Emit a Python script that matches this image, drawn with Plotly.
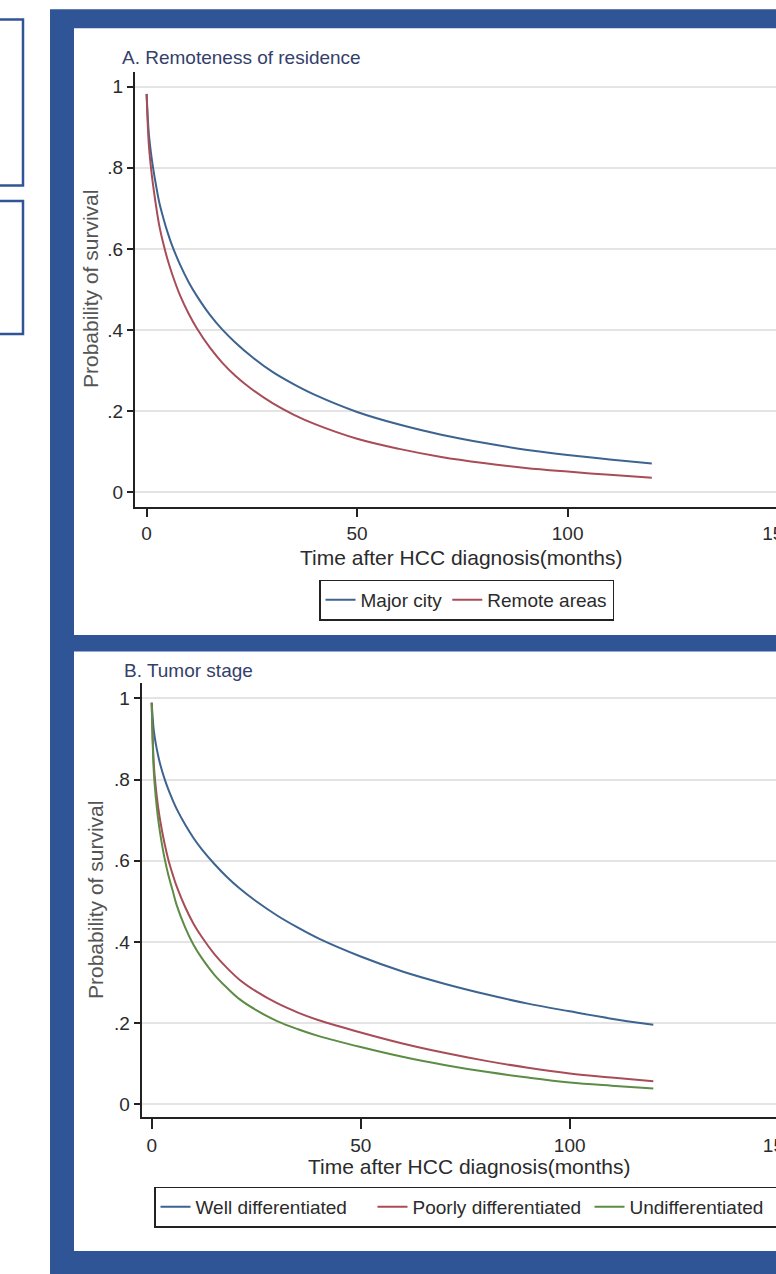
import plotly.graph_objects as go

# ---------------- data ----------------
time_months = [0, 0.5, 1, 1.5, 2, 3, 4, 5, 6, 8, 10, 12, 15, 18, 21, 25, 30, 35, 40,
               50, 60, 70, 80, 90, 100, 110, 120]

major_city = [0.982, 0.888, 0.840, 0.803, 0.771, 0.715, 0.675, 0.640, 0.610, 0.560,
              0.518, 0.483, 0.438, 0.401, 0.370, 0.334, 0.296, 0.266, 0.240,
              0.198, 0.167, 0.142, 0.122, 0.105, 0.092, 0.081, 0.071]
remote_areas = [0.982, 0.862, 0.804, 0.760, 0.723, 0.658, 0.612, 0.573, 0.540, 0.484,
                0.440, 0.403, 0.357, 0.319, 0.288, 0.254, 0.219, 0.191, 0.168,
                0.132, 0.107, 0.087, 0.072, 0.060, 0.051, 0.043, 0.036]

well_diff = [0.989, 0.921, 0.887, 0.861, 0.839, 0.804, 0.775, 0.750, 0.727, 0.689,
             0.656, 0.628, 0.592, 0.560, 0.532, 0.500, 0.465, 0.435, 0.408,
             0.364, 0.327, 0.297, 0.271, 0.248, 0.229, 0.211, 0.196]
poorly_diff = [0.989, 0.839, 0.779, 0.735, 0.701, 0.646, 0.602, 0.567, 0.536, 0.486,
               0.445, 0.412, 0.370, 0.336, 0.307, 0.278, 0.249, 0.226, 0.207,
               0.177, 0.150, 0.127, 0.107, 0.090, 0.076, 0.066, 0.057]
undiff = [0.989, 0.820, 0.754, 0.706, 0.669, 0.610, 0.564, 0.527, 0.490, 0.436,
          0.393, 0.360, 0.319, 0.287, 0.259, 0.232, 0.205, 0.185, 0.168,
          0.141, 0.117, 0.097, 0.080, 0.066, 0.054, 0.046, 0.039]

x_tickvals = [0, 50, 100, 150]
y_tickvals = [0, 0.2, 0.4, 0.6, 0.8, 1]
y_ticktext = ["0", ".2", ".4", ".6", ".8", "1"]

panel_titles = ["A. Remoteness of residence", "B. Tumor stage"]
x_title = "Time after HCC diagnosis(months)"
y_title = "Probability of survival"

# ---------------- styling ----------------
# The reference is a crop of a wider figure: the page is drawn 820 px wide and
# the 776 px window shows its left part, so the right edge is cut like the original.
W, H = 820, 1274
FONT = "Arial, Liberation Sans, sans-serif"
FRAME = "#2f5597"
C_BLUE = "#3d6391"
C_RED = "#a84c57"
C_GREEN = "#5c8c45"
GRID = "#e4e4e4"
TXT = "#2b2b2b"


def px(x):
    return x / W


def py(y):
    return 1 - y / H


fig = go.Figure()

line_kw = dict(mode="lines", line_shape="spline")
fig.add_trace(go.Scatter(x=time_months, y=major_city, name="Major city",
                         line=dict(color=C_BLUE, width=2), xaxis="x", yaxis="y",
                         legend="legend", **line_kw))
fig.add_trace(go.Scatter(x=time_months, y=remote_areas, name="Remote areas",
                         line=dict(color=C_RED, width=2), xaxis="x", yaxis="y",
                         legend="legend", **line_kw))
fig.add_trace(go.Scatter(x=time_months, y=well_diff, name="Well differentiated",
                         line=dict(color=C_BLUE, width=2), xaxis="x2", yaxis="y2",
                         legend="legend2", **line_kw))
fig.add_trace(go.Scatter(x=time_months, y=poorly_diff, name="Poorly differentiated",
                         line=dict(color=C_RED, width=2), xaxis="x2", yaxis="y2",
                         legend="legend2", **line_kw))
fig.add_trace(go.Scatter(x=time_months, y=undiff, name="Undifferentiated",
                         line=dict(color=C_GREEN, width=2), xaxis="x2", yaxis="y2",
                         legend="legend2", **line_kw))

tickfont = dict(family=FONT, size=19, color=TXT)
xax = dict(tickvals=x_tickvals, ticks="outside", ticklen=8, tickwidth=2, tickcolor="#222",
           showline=True, linecolor="#222", linewidth=2, showgrid=False, zeroline=False,
           tickfont=tickfont, fixedrange=True)
yax = dict(tickvals=y_tickvals, ticktext=y_ticktext, ticks="outside", ticklen=6, tickwidth=2,
           tickcolor="#222", showline=True, linecolor="#222", linewidth=2,
           showgrid=True, gridcolor=GRID, gridwidth=2, zeroline=False, tickfont=tickfont,
           fixedrange=True)

legend_font = dict(family=FONT, size=19, color=TXT)
fig.update_layout(
    width=W, height=H,
    margin=dict(l=0, r=0, t=0, b=0),
    paper_bgcolor="white", plot_bgcolor="rgba(0,0,0,0)",
    font=dict(family=FONT, color=TXT),
    xaxis=dict(domain=[px(135), 1.0], range=[-2.755, 159.95], anchor="y", **xax),
    yaxis=dict(domain=[py(506.7), py(72)], range=[-0.0355, 1.036], anchor="x", **yax),
    xaxis2=dict(domain=[px(141.7), 1.0], range=[-2.39, 159.88], anchor="y2",
                **{**xax, "ticklen": 10}),
    yaxis2=dict(domain=[py(1117.3), py(683.3)], range=[-0.032, 1.037], anchor="x2", **yax),
    legend=dict(orientation="h", x=px(319), xanchor="left", y=py(600), yanchor="middle",
                bordercolor="#222", borderwidth=1.5, bgcolor="white",
                font=legend_font, itemclick=False),
    legend2=dict(orientation="h", x=px(154), xanchor="left", y=py(1207), yanchor="middle",
                 bordercolor="#222", borderwidth=1.5, bgcolor="white", entrywidth=172,
                 font=legend_font, itemclick=False),
    showlegend=True,
)

# blue frame and white panels (layout decoration)
shapes = [
    dict(type="rect", xref="paper", yref="paper", x0=px(50), x1=1.05, y0=py(1280), y1=py(9.3),
         fillcolor=FRAME, line=dict(width=0), layer="below"),
    dict(type="rect", xref="paper", yref="paper", x0=px(74), x1=1.05, y0=py(635), y1=py(28.3),
         fillcolor="white", line=dict(width=0), layer="below"),
    dict(type="rect", xref="paper", yref="paper", x0=px(74), x1=1.05, y0=py(1251), y1=py(651.5),
         fillcolor="white", line=dict(width=0), layer="below"),
    dict(type="rect", xref="paper", yref="paper", x0=px(-10), x1=px(23), y0=py(185.5), y1=py(19.5),
         fillcolor="rgba(0,0,0,0)", line=dict(color=FRAME, width=2.5), layer="below"),
    dict(type="rect", xref="paper", yref="paper", x0=px(-10), x1=px(23), y0=py(334), y1=py(201),
         fillcolor="rgba(0,0,0,0)", line=dict(color=FRAME, width=2.5), layer="below"),
]
fig.update_layout(shapes=shapes)

title_font = dict(family=FONT, size=19, color="#34406a")
axis_title_font = dict(family=FONT, size=21, color=TXT)
ylab_font = dict(family=FONT, size=21, color="#555555")
annotations = [
    dict(text=panel_titles[0], x=px(120), y=py(58), xref="paper", yref="paper",
         xanchor="left", yanchor="middle", showarrow=False, font=title_font),
    dict(text=panel_titles[1], x=px(122), y=py(670), xref="paper", yref="paper",
         xanchor="left", yanchor="middle", showarrow=False, font=title_font),
    dict(text=x_title, x=px(298), y=py(557), xref="paper", yref="paper",
         xanchor="left", yanchor="middle", showarrow=False, font=axis_title_font),
    dict(text=x_title, x=px(306), y=py(1166), xref="paper", yref="paper",
         xanchor="left", yanchor="middle", showarrow=False, font=axis_title_font),
    dict(text=y_title, x=px(90), y=py(289), xref="paper", yref="paper", textangle=-90,
         xanchor="center", yanchor="middle", showarrow=False, font=ylab_font),
    dict(text=y_title, x=px(95), y=py(900), xref="paper", yref="paper", textangle=-90,
         xanchor="center", yanchor="middle", showarrow=False, font=ylab_font),
]
fig.update_layout(annotations=annotations)

fig.write_html("out.html", config={"displayModeBar": False},
               post_script="document.body.style.margin='0';document.body.style.overflow='hidden';")
